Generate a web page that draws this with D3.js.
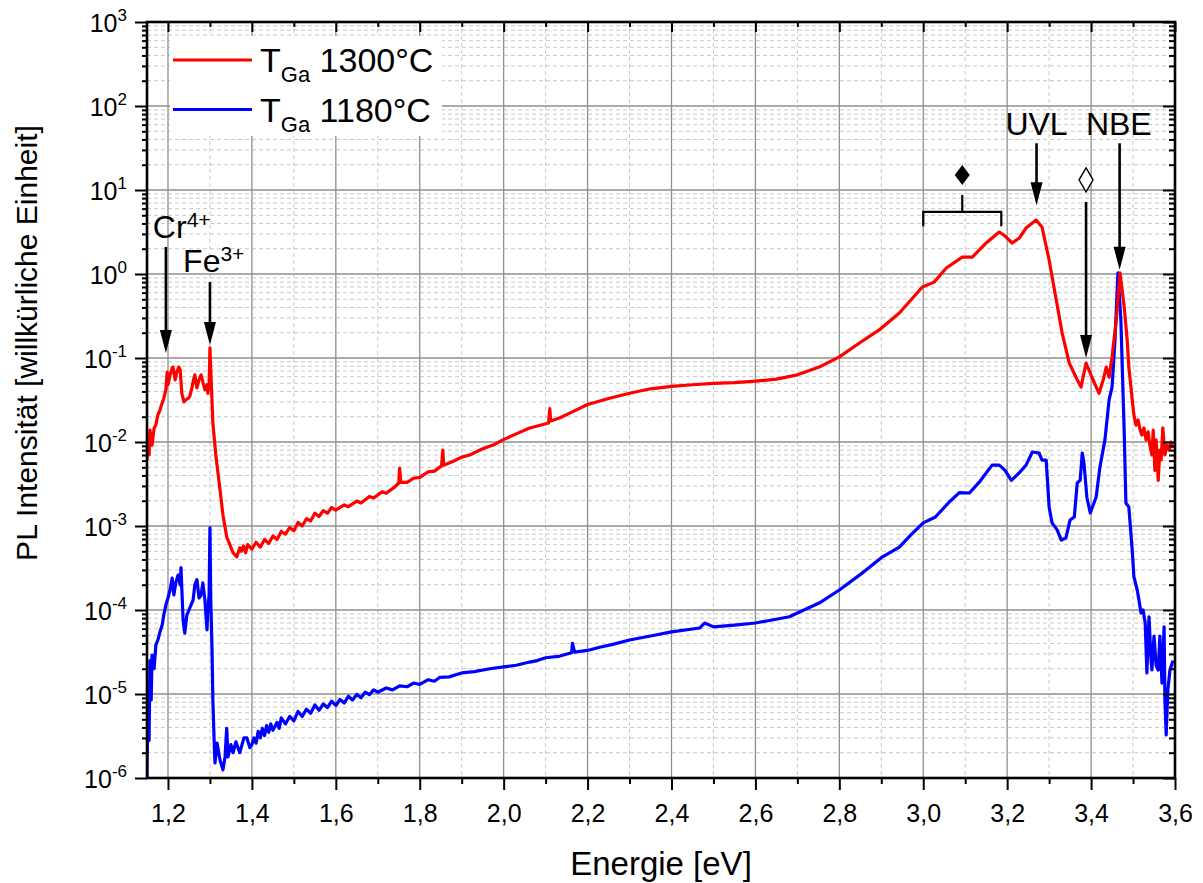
<!DOCTYPE html>
<html><head><meta charset="utf-8">
<script src="https://cdn.jsdelivr.net/npm/d3@7"></script>
<style>
body{margin:0;background:#fff}
svg{display:block}
text{font-family:"Liberation Sans",Arial,Helvetica,sans-serif;fill:#000}
</style>
</head><body>
<svg id="chart" width="1203" height="883"></svg>
<script>
// ---------- data (energy in eV, PL intensity in a.u.) ----------
const seriesNames = ["1300°C", "1180°C"];
const red1300 = [
[1.150,6.1e-3],[1.152,1.06e-2],[1.155,7.0e-3],[1.157,1.39e-2],[1.162,9.2e-3],[1.167,1.47e-2],[1.171,1.59e-2],
[1.176,2.1e-2],[1.181,2.4e-2],[1.186,2.9e-2],[1.190,3.3e-2],[1.195,4.2e-2],[1.198,6.8e-2],[1.200,4.8e-2],
[1.205,6.3e-2],[1.210,7.6e-2],[1.212,7.8e-2],[1.217,5.5e-2],[1.221,6.8e-2],[1.226,7.8e-2],[1.229,7.2e-2],
[1.233,3.8e-2],[1.238,3.0e-2],[1.243,3.2e-2],[1.248,3.3e-2],[1.252,3.5e-2],[1.257,4.4e-2],[1.262,5.8e-2],
[1.264,6.3e-2],[1.269,4.4e-2],[1.274,5.5e-2],[1.279,6.3e-2],[1.283,5.2e-2],[1.288,4.2e-2],[1.293,4.8e-2],
[1.295,3.8e-2],[1.298,4.8e-2],[1.300,0.132],[1.302,7.2e-2],[1.307,1.68e-2],[1.314,7.0e-3],[1.324,2.7e-3],
[1.331,1.35e-3],[1.336,9.7e-4],[1.340,7.4e-4],[1.348,5.9e-4],[1.355,4.8e-4],[1.364,4.3e-4],[1.371,5.5e-4],
[1.375,5.0e-4],[1.380,5.8e-4],[1.385,4.8e-4],[1.390,6.0e-4],[1.400,5.3e-4],[1.410,6.4e-4],[1.420,5.6e-4],
[1.430,6.9e-4],[1.440,6.2e-4],[1.450,7.6e-4],[1.460,6.9e-4],[1.470,8.6e-4],[1.480,8.0e-4],[1.490,9.6e-4],
[1.500,8.8e-4],[1.510,1.10e-3],[1.520,1.00e-3],[1.530,1.22e-3],[1.540,1.15e-3],[1.550,1.42e-3],[1.560,1.30e-3],
[1.570,1.52e-3],[1.580,1.42e-3],[1.590,1.66e-3],[1.600,1.55e-3],[1.620,1.78e-3],[1.630,1.70e-3],[1.650,1.98e-3],
[1.660,1.88e-3],[1.680,2.25e-3],[1.690,2.15e-3],[1.710,2.55e-3],[1.720,2.45e-3],[1.740,2.90e-3],
[1.750,3.25e-3],[1.752,4.9e-3],[1.755,3.3e-3],[1.770,3.3e-3],[1.785,3.7e-3],[1.800,3.8e-3],[1.820,4.4e-3],
[1.835,4.5e-3],[1.852,5.2e-3],[1.855,8.0e-3],[1.857,5.3e-3],[1.880,5.9e-3],[1.900,6.6e-3],[1.919,7.0e-3],
[1.950,8.3e-3],[1.975,9.2e-3],[1.998,1.06e-2],[2.030,1.25e-2],[2.062,1.47e-2],
[2.085,1.57e-2],[2.107,1.68e-2],[2.110,2.5e-2],[2.112,1.78e-2],[2.133,1.93e-2],[2.165,2.3e-2],[2.200,2.8e-2],
[2.250,3.3e-2],[2.300,3.8e-2],[2.350,4.3e-2],[2.400,4.6e-2],[2.450,4.8e-2],
[2.500,5.0e-2],[2.550,5.1e-2],[2.600,5.3e-2],[2.650,5.6e-2],[2.700,6.3e-2],[2.752,7.8e-2],[2.800,0.103],[2.848,0.151],[2.895,0.216],
[2.943,0.343],[2.998,0.70],[3.026,0.80],[3.055,1.18],[3.093,1.59],[3.117,1.59],[3.150,2.34],[3.181,3.16],
[3.195,2.83],[3.212,2.34],[3.229,2.68],[3.245,3.53],[3.269,4.39],[3.283,3.63],[3.300,1.47],[3.317,0.49],
[3.331,0.199],[3.348,8.7e-2],[3.364,5.9e-2],[3.376,4.5e-2],[3.388,8.7e-2],[3.402,5.9e-2],[3.419,3.8e-2],
[3.429,5.5e-2],[3.436,7.8e-2],[3.443,5.9e-2],[3.450,0.103],[3.460,0.283],[3.469,1.03],[3.479,0.405],
[3.486,0.164],[3.490,7.8e-2],[3.498,3.2e-2],[3.502,2.1e-2],[3.507,1.59e-2],[3.512,1.83e-2],[3.517,1.39e-2],
[3.521,1.21e-2],[3.526,1.47e-2],[3.531,1.06e-2],[3.536,1.32e-2],[3.540,9.2e-3],[3.545,7.0e-3],[3.548,1.39e-2],
[3.552,4.6e-3],[3.555,1.06e-2],[3.560,3.5e-3],[3.564,8.0e-3],[3.567,6.1e-3],[3.571,1.47e-2],[3.576,7.0e-3],
[3.581,9.2e-3],[3.586,8.0e-3],[3.590,1.0e-2],[3.595,8.5e-3]
];
const blue1180 = [
[1.150,1.0e-6],[1.152,8.5e-6],[1.155,2.8e-6],[1.157,2.5e-5],[1.160,8.5e-6],[1.162,2.9e-5],[1.167,2.0e-5],
[1.171,3.8e-5],[1.176,4.4e-5],[1.181,5.5e-5],[1.186,6.6e-5],[1.190,8.7e-5],[1.195,1.15e-4],[1.200,1.39e-4],
[1.205,1.73e-4],[1.210,2.4e-4],[1.214,1.51e-4],[1.219,2.15e-4],[1.224,2.6e-4],[1.229,1.99e-4],[1.231,3.2e-4],
[1.236,7.6e-5],[1.240,5.3e-5],[1.245,8.7e-5],[1.250,1.0e-4],[1.255,1.15e-4],[1.260,1.32e-4],[1.264,1.99e-4],
[1.269,2.3e-4],[1.274,1.39e-4],[1.279,1.51e-4],[1.283,2.1e-4],[1.288,1.32e-4],[1.293,5.8e-5],[1.295,1.0e-4],
[1.298,1.51e-4],[1.300,9.5e-4],[1.302,1.32e-4],[1.305,3.3e-5],[1.307,8.5e-6],[1.310,2.8e-6],[1.312,1.51e-6],
[1.317,2.6e-6],[1.324,1.64e-6],[1.331,1.25e-6],[1.336,1.78e-6],[1.340,3.9e-6],[1.343,1.78e-6],[1.350,2.5e-6],
[1.355,2.0e-6],[1.362,2.7e-6],[1.371,2.0e-6],[1.381,3.0e-6],[1.388,3.0e-6],[1.395,2.3e-6],[1.400,2.5e-6],
[1.405,3.0e-6],[1.410,2.6e-6],[1.415,3.6e-6],[1.420,3.0e-6],[1.425,3.9e-6],[1.430,3.2e-6],[1.435,4.2e-6],
[1.440,3.5e-6],[1.445,4.4e-6],[1.450,3.7e-6],[1.460,4.6e-6],[1.465,3.9e-6],[1.470,5.2e-6],[1.480,4.4e-6],
[1.490,5.4e-6],[1.500,4.8e-6],[1.510,6.2e-6],[1.520,5.4e-6],[1.530,6.6e-6],[1.540,5.9e-6],[1.550,7.4e-6],
[1.560,6.4e-6],[1.570,7.6e-6],[1.580,6.9e-6],[1.590,8.2e-6],[1.600,7.3e-6],[1.610,8.6e-6],[1.620,7.8e-6],
[1.630,9.4e-6],[1.640,8.5e-6],[1.650,9.9e-6],[1.660,9.0e-6],[1.670,1.05e-5],[1.680,9.8e-6],[1.690,1.12e-5],
[1.700,1.05e-5],[1.720,1.18e-5],[1.735,1.12e-5],[1.752,1.25e-5],[1.770,1.22e-5],[1.785,1.35e-5],[1.800,1.30e-5],
[1.820,1.48e-5],[1.835,1.42e-5],[1.848,1.58e-5],[1.870,1.60e-5],
[1.900,1.78e-5],[1.930,1.85e-5],[1.967,2.0e-5],[2.000,2.1e-5],[2.030,2.2e-5],[2.062,2.4e-5],[2.080,2.5e-5],
[2.100,2.7e-5],[2.130,2.8e-5],[2.162,3.1e-5],[2.164,4.0e-5],
[2.169,3.15e-5],[2.200,3.3e-5],[2.229,3.6e-5],[2.260,3.9e-5],[2.300,4.4e-5],[2.350,4.9e-5],[2.400,5.5e-5],[2.467,6.1e-5],[2.479,7.0e-5],
[2.500,6.3e-5],[2.550,6.6e-5],[2.600,7.0e-5],[2.640,7.6e-5],[2.681,8.3e-5],[2.700,9.2e-5],[2.752,1.21e-4],[2.800,1.73e-4],[2.848,2.6e-4],
[2.900,4.2e-4],[2.943,5.6e-4],[2.970,7.8e-4],[3.000,1.09e-3],[3.029,1.28e-3],[3.062,1.93e-3],[3.086,2.5e-3],[3.110,2.47e-3],
[3.133,3.3e-3],[3.164,5.3e-3],[3.181,5.3e-3],[3.195,4.6e-3],[3.210,3.5e-3],[3.229,4.3e-3],[3.245,5.3e-3],
[3.260,7.6e-3],[3.276,7.4e-3],[3.283,6.1e-3],[3.293,6.1e-3],[3.300,1.68e-3],[3.307,1.09e-3],[3.319,9.0e-4],
[3.329,6.8e-4],[3.340,7.2e-4],[3.350,1.18e-3],[3.360,1.28e-3],[3.367,3.25e-3],[3.374,3.5e-3],[3.379,7.4e-3],
[3.383,5.6e-3],[3.390,2.2e-3],[3.398,1.43e-3],[3.412,2.2e-3],[3.421,5.0e-3],[3.433,1.06e-2],[3.443,3.2e-2],
[3.450,4.5e-2],[3.457,0.164],[3.464,1.03],[3.471,0.283],[3.479,1.28e-2],[3.483,1.88e-3],[3.490,1.68e-3],
[3.498,5.2e-4],[3.502,2.5e-4],[3.510,1.73e-4],[3.514,1.32e-4],[3.519,9.2e-5],[3.524,1.0e-4],[3.529,7.0e-5],
[3.533,1.78e-5],[3.538,8.3e-5],[3.543,2.5e-5],[3.545,1.93e-5],[3.550,4.9e-5],[3.555,2.2e-5],[3.560,1.93e-5],
[3.564,4.9e-5],[3.569,1.35e-5],[3.574,6.3e-5],[3.576,8.5e-6],[3.579,3.25e-6],[3.583,1.12e-5],[3.588,1.93e-5],
[3.593,2.3e-5],[3.595,2.5e-5]
];
const xTickValues = [1.2,1.4,1.6,1.8,2.0,2.2,2.4,2.6,2.8,3.0,3.2,3.4,3.6];
const xMinorValues = [1.3,1.5,1.7,1.9,2.1,2.3,2.5,2.7,2.9,3.1,3.3,3.5];
const yExponents = [-6,-5,-4,-3,-2,-1,0,1,2,3];
// annotations: label text, superscript, energy, intensity
const noteLabels = [
  {t:"Cr", sup:"4+", E:1.164, v:2.7, anchor:"start"},
  {t:"Fe", sup:"3+", E:1.236, v:1.06, anchor:"start"},
  {t:"UVL", sup:"", E:3.270, v:45, anchor:"middle"},
  {t:"NBE", sup:"", E:3.466, v:45, anchor:"middle"}
];
const noteArrows = [
  {E:1.195, from:2.1, to:0.115},
  {E:1.300, from:0.80, to:0.143},
  {E:3.270, from:36, to:6.6},
  {E:3.468, from:36, to:1.12},
  {E:3.388, from:7.2, to:0.10}
];
const openDiamond = {E:3.388, v:13.2};
const filledDiamond = {E:3.093, v:15.1};
const bracket = {E0:3.0, E1:3.186, v:5.5, vEnd:3.7, vTop:8.7};

// ---------- layout ----------
const L = 147, R = 1175, T = 22, B = 778;
const svg = d3.select("#chart");
const x = d3.scaleLinear().domain([1.15, 3.6]).range([L, R]);
const y = d3.scaleLog().domain([1e-6, 1e3]).range([B, T]);

const yMajor = yExponents.map(e => Math.pow(10, e));
const yMinor = [];
yExponents.slice(0, -1).forEach(e => { for (let m = 2; m <= 9; m++) yMinor.push(m * Math.pow(10, e)); });

// grid
const grid = svg.append("g");
grid.selectAll(".gyMin").data(yMinor).join("line")
  .attr("x1", L).attr("x2", R).attr("y1", d => y(d)).attr("y2", d => y(d))
  .attr("stroke", "#c8c8c8").attr("stroke-width", 1).attr("stroke-dasharray", "4,3");
grid.selectAll(".gxMin").data(xMinorValues).join("line")
  .attr("x1", d => x(d)).attr("x2", d => x(d)).attr("y1", T).attr("y2", B)
  .attr("stroke", "#c8c8c8").attr("stroke-width", 1).attr("stroke-dasharray", "4,3");
grid.selectAll(".gyMaj").data(yMajor).join("line")
  .attr("x1", L).attr("x2", R).attr("y1", d => y(d)).attr("y2", d => y(d))
  .attr("stroke", "#8f8f8f").attr("stroke-width", 1.3);
grid.selectAll(".gxMaj").data(xTickValues).join("line")
  .attr("x1", d => x(d)).attr("x2", d => x(d)).attr("y1", T).attr("y2", B)
  .attr("stroke", "#8f8f8f").attr("stroke-width", 1.3);

// legend background
svg.append("rect").attr("x", 170).attr("y", 36).attr("width", 272).attr("height", 100).attr("fill", "#fff");

// curves
svg.append("clipPath").attr("id", "clip").append("rect")
  .attr("x", L).attr("y", T).attr("width", R - L).attr("height", B - T);
const line = d3.line().x(d => x(d[0])).y(d => y(d[1]));
const curves = svg.append("g").attr("clip-path", "url(#clip)");
curves.append("path").datum(blue1180).attr("d", line).attr("fill", "none")
  .attr("stroke", "#0000ff").attr("stroke-width", 3.2).attr("stroke-linejoin", "round");
curves.append("path").datum(red1300).attr("d", line).attr("fill", "none")
  .attr("stroke", "#ff0000").attr("stroke-width", 3.2).attr("stroke-linejoin", "round");

// axes
function styleAxis(g) {
  g.selectAll("line").attr("stroke", "#000").attr("stroke-width", 2);
  g.selectAll("path.domain").remove();
  g.selectAll("text").attr("font-size", 25).attr("fill", "#000")
    .attr("font-family", "'Liberation Sans', Arial, sans-serif");
}
const fmt = d => d.toFixed(1).replace(".", ",");
svg.append("g").attr("transform", `translate(0,${B})`)
  .call(d3.axisBottom(x).tickValues(xTickValues).tickSize(12).tickPadding(14).tickFormat(fmt)).call(styleAxis);
svg.append("g").attr("transform", `translate(0,${B})`)
  .call(d3.axisBottom(x).tickValues(xMinorValues).tickSize(6).tickFormat("")).call(styleAxis);
svg.append("g").attr("transform", `translate(0,${T})`)
  .call(d3.axisTop(x).tickValues(xTickValues).tickSize(-10).tickFormat("")).call(styleAxis);
svg.append("g").attr("transform", `translate(0,${T})`)
  .call(d3.axisTop(x).tickValues(xMinorValues).tickSize(-5).tickFormat("")).call(styleAxis);
svg.append("g").attr("transform", `translate(${L},0)`)
  .call(d3.axisLeft(y).tickValues(yMajor).tickSize(12).tickFormat("")).call(styleAxis);
svg.append("g").attr("transform", `translate(${L},0)`)
  .call(d3.axisLeft(y).tickValues(yMinor).tickSize(5).tickFormat("")).call(styleAxis);
svg.append("g").attr("transform", `translate(${R},0)`)
  .call(d3.axisRight(y).tickValues(yMajor).tickSize(-12).tickFormat("")).call(styleAxis);
svg.append("g").attr("transform", `translate(${R},0)`)
  .call(d3.axisRight(y).tickValues(yMinor).tickSize(-6).tickFormat("")).call(styleAxis);

// frame
svg.append("rect").attr("x", L).attr("y", T).attr("width", R - L).attr("height", B - T)
  .attr("fill", "none").attr("stroke", "#000").attr("stroke-width", 2.6);

// y tick labels 10^n
yExponents.forEach(e => {
  const t = svg.append("text").attr("x", 127).attr("y", y(Math.pow(10, e)) + 10)
    .attr("text-anchor", "end").attr("font-size", 25);
  t.append("tspan").text("10");
  t.append("tspan").attr("font-size", 17).attr("dy", -11).text(String(e));
});

// axis titles
svg.append("text").attr("x", 661).attr("y", 875).attr("text-anchor", "middle")
  .attr("font-size", 33).text("Energie [eV]");
svg.append("text").attr("transform", "translate(37,343) rotate(-90)").attr("text-anchor", "middle")
  .attr("font-size", 30).text("PL Intensität [willkürliche Einheit]");

// legend
const legendColors = ["#ff0000", "#0000ff"];
seriesNames.forEach((name, i) => {
  const yy = 60 + i * 49.5;
  svg.append("line").attr("x1", 173).attr("x2", 252).attr("y1", yy).attr("y2", yy)
    .attr("stroke", legendColors[i]).attr("stroke-width", 3.2);
  const t = svg.append("text").attr("x", 260).attr("y", yy + 12).attr("font-size", 34);
  t.append("tspan").text("T");
  t.append("tspan").attr("font-size", 22).attr("dy", 10).text("Ga");
  t.append("tspan").attr("dy", -10).text("\u00a0" + name);
});

// annotations
const ann = svg.append("g");
noteLabels.forEach(n => {
  const t = ann.append("text").attr("x", x(n.E)).attr("y", y(n.v))
    .attr("text-anchor", n.anchor).attr("font-size", 32);
  t.append("tspan").text(n.t);
  if (n.sup) t.append("tspan").attr("font-size", 21).attr("dy", -11).text(n.sup);
});
noteArrows.forEach(a => {
  const xx = x(a.E), y0 = y(a.from), y1 = y(a.to);
  ann.append("line").attr("x1", xx).attr("x2", xx).attr("y1", y0).attr("y2", y1 - 18)
    .attr("stroke", "#000").attr("stroke-width", 2.6);
  ann.append("path").attr("d", `M${xx},${y1} L${xx - 6},${y1 - 23} L${xx + 6},${y1 - 23} Z`).attr("fill", "#000");
});
{
  const cx = x(openDiamond.E), cy = y(openDiamond.v);
  ann.append("path").attr("d", `M${cx},${cy - 12} L${cx + 7},${cy} L${cx},${cy + 12} L${cx - 7},${cy} Z`)
    .attr("fill", "#fff").attr("stroke", "#000").attr("stroke-width", 1.4);
  const fx = x(filledDiamond.E), fy = y(filledDiamond.v);
  ann.append("path").attr("d", `M${fx},${fy - 10} L${fx + 7.5},${fy} L${fx},${fy + 10} L${fx - 7.5},${fy} Z`)
    .attr("fill", "#000");
  const bx0 = x(bracket.E0), bx1 = x(bracket.E1), by = y(bracket.v), byE = y(bracket.vEnd), byT = y(bracket.vTop);
  const bm = (bx0 + bx1) / 2;
  ann.append("path").attr("d", `M${bx0},${byE} L${bx0},${by} L${bx1},${by} L${bx1},${byE} M${bm},${by} L${bm},${byT}`)
    .attr("fill", "none").attr("stroke", "#000").attr("stroke-width", 2.2);
}
</script>
</body></html>
